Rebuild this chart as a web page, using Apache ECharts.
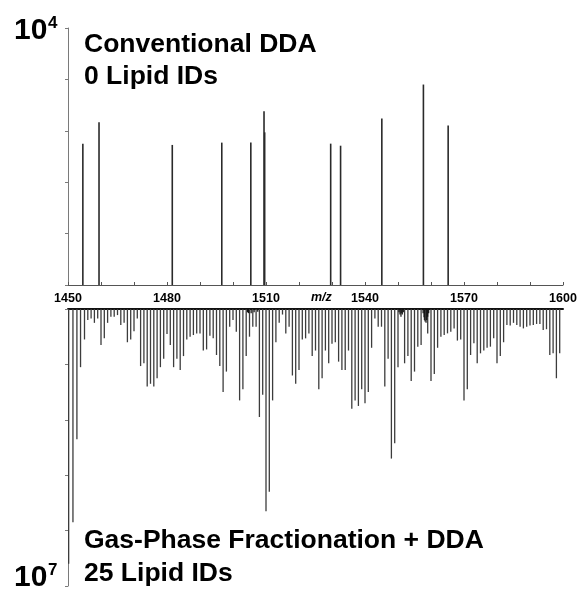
<!DOCTYPE html>
<html>
<head>
<meta charset="utf-8">
<script src="https://cdn.jsdelivr.net/npm/echarts@6/dist/echarts.min.js"></script>
<style>
html,body{margin:0;padding:0;background:#fff;}
#chart{width:582px;height:591px;}
</style>
</head>
<body>
<div id="chart"></div>
<script>
// X axis tick labels
var xTickLabels = ['1450', '1480', '1510', '1540', '1570', '1600'];

// Top panel: Conventional DDA (linear intensity, max 10^4)
var topMz  = [1454.5, 1459.4, 1481.6, 1496.6, 1505.4, 1509.4, 1509.6, 1529.6, 1532.6, 1545.1, 1557.7, 1565.2];
var topInt = [5500, 6330, 5450, 5540, 5540, 6760, 5940, 5500, 5420, 6480, 7800, 6210];

// Bottom panel: Gas-Phase Fractionation + DDA (intensity in millions, max 10^7)
var bottomMz = [1450.2, 1451.5, 1452.7, 1453.8,
  1455, 1456, 1457, 1458, 1459, 1460, 1461, 1462, 1463, 1464,
  1465, 1466, 1467, 1468, 1469, 1470, 1471, 1472, 1473, 1474,
  1475, 1476, 1477, 1478, 1479, 1480, 1481, 1482, 1483, 1484,
  1485, 1486, 1487, 1488, 1489, 1490, 1491, 1492, 1493, 1494,
  1495, 1496, 1497, 1498, 1499, 1500, 1501, 1502, 1503, 1504,
  1505, 1506, 1507, 1508, 1509, 1510, 1511, 1512, 1513, 1514,
  1515, 1516, 1517, 1518, 1519, 1520, 1521, 1522, 1523, 1524,
  1525, 1526, 1527, 1528, 1529, 1530, 1531, 1532, 1533, 1534,
  1535, 1536, 1537, 1538, 1539, 1540, 1541, 1542, 1543, 1544,
  1545, 1546, 1547, 1548, 1549, 1550, 1551, 1552, 1553, 1554,
  1555, 1556, 1557, 1558, 1559, 1560, 1561, 1562, 1563, 1564,
  1565, 1566, 1567, 1568, 1569, 1570, 1571, 1572, 1573, 1574,
  1575, 1576, 1577, 1578, 1579, 1580, 1581, 1582, 1583, 1584,
  1585, 1586, 1587, 1588, 1589, 1590, 1591, 1592, 1593, 1594,
  1595, 1596, 1597, 1598, 1599];
var bottomInt = [9.2, 7.7, 4.7, 2.1,
  1.1, 0.4, 0.34, 0.5, 0.34, 1.3, 1.06, 0.5, 0.28, 0.28,
  0.22, 0.58, 0.5, 1.2, 1.1, 0.8, 0.34, 2.06, 1.96, 2.8,
  2.7, 2.8, 2.5, 2.1, 1.8, 0.9, 1.3, 2.1, 1.8, 2.2,
  1.7, 1.1, 1.0, 0.94, 0.88, 0.88, 1.5, 1.46, 0.97, 1.06,
  1.66, 2.06, 3.0, 2.26, 0.64, 0.4, 0.82, 3.3, 2.9, 1.7,
  1.0, 0.64, 0.64, 3.9, 3.1, 7.3, 6.6, 3.3, 1.2, 0.5,
  0.2, 0.88, 0.64, 2.4, 2.7, 2.2, 1.1, 1.06, 0.88, 1.7,
  1.5, 2.9, 2.5, 1.5, 1.96, 1.25, 1.2, 1.9, 2.2, 2.2,
  1.5, 3.6, 3.3, 3.5, 2.9, 3.4, 3.0, 1.4, 0.34, 0.64,
  0.64, 2.8, 1.8, 5.4, 4.85, 2.1, 0.15, 1.96, 1.7, 2.6,
  2.26, 1.36, 1.3, 0.4, 0.88, 2.6, 2.35, 1.4, 1.0, 0.94,
  0.88, 0.82, 0.7, 1.14, 1.1, 3.3, 2.9, 1.66, 1.24, 1.96,
  1.6, 1.5, 1.4, 1.36, 1.06, 1.96, 1.7, 1.2, 0.58, 0.6,
  0.5, 0.58, 0.64, 0.7, 0.64, 0.6, 0.58, 0.54, 0.54, 0.76,
  0.73, 1.66, 1.6, 2.5, 1.6];

// Small dense peaks close to the baseline (dark clusters)
var minorMz  = [1504.4, 1504.7, 1505.5, 1506.4, 1507.5,
  1550.3, 1550.6, 1550.9, 1551.3, 1551.6,
  1557.6, 1557.9, 1558.2, 1558.5, 1558.7, 1559.0, 1559.3];
var minorInt = [0.12, 0.15, 0.15, 0.12, 0.1,
  0.12, 0.2, 0.28, 0.2, 0.12,
  0.15, 0.3, 0.45, 0.5, 0.4, 0.28, 0.15];

function pairs(xs, ys) {
  var out = [];
  for (var i = 0; i < xs.length; i++) out.push([xs[i], ys[i]]);
  return out;
}

function stickRenderer(color, width) {
  return function (params, api) {
    var p0 = api.coord([api.value(0), 0]);
    var p1 = api.coord([api.value(0), api.value(1)]);
    return {
      type: 'line',
      shape: { x1: p0[0], y1: p0[1], x2: p1[0], y2: p1[1] },
      style: { stroke: color, lineWidth: width }
    };
  };
}

var FONT = '"Liberation Sans", Arial, sans-serif';
var axisGray = '#7a7a7a';

var chart = echarts.init(document.getElementById('chart'), null, { renderer: 'canvas' });
chart.setOption({
  animation: false,
  backgroundColor: '#ffffff',
  grid: [
    { left: 68, top: 28, width: 495, height: 257 },
    { left: 68, top: 309, width: 495, height: 277 }
  ],
  xAxis: [
    {
      type: 'value', gridIndex: 0, min: 1450, max: 1600, interval: 10,
      axisLine: { show: true, lineStyle: { color: '#555', width: 1 } },
      axisTick: { show: true, inside: true, length: 3, lineStyle: { color: '#555' } },
      splitLine: { show: false },
      axisLabel: {
        show: true, margin: 7, color: '#000', fontFamily: FONT, fontWeight: 'bold', fontSize: 12.5,
        formatter: function (v) {
          var s = String(Math.round(v));
          return xTickLabels.indexOf(s) >= 0 ? s : '';
        }
      }
    },
    {
      type: 'value', gridIndex: 1, min: 1450, max: 1600, position: 'top',
      axisLine: { show: true, onZero: false, lineStyle: { color: '#111', width: 2 } },
      axisTick: { show: false },
      axisLabel: { show: false },
      splitLine: { show: false }
    }
  ],
  yAxis: [
    {
      type: 'value', gridIndex: 0, min: 0, max: 10000, interval: 2000,
      axisLine: { show: true, lineStyle: { color: axisGray, width: 1 } },
      axisTick: { show: true, inside: false, length: 3, lineStyle: { color: axisGray } },
      axisLabel: { show: false },
      splitLine: { show: false }
    },
    {
      type: 'value', gridIndex: 1, min: 0, max: 10, interval: 2, inverse: true,
      axisLine: { show: true, lineStyle: { color: axisGray, width: 1 } },
      axisTick: { show: true, inside: false, length: 3, lineStyle: { color: axisGray } },
      axisLabel: { show: false },
      splitLine: { show: false }
    }
  ],
  series: [
    {
      type: 'custom', xAxisIndex: 0, yAxisIndex: 0,
      renderItem: stickRenderer('#2a2a2a', 1.6),
      encode: { x: 0, y: 1 },
      data: pairs(topMz, topInt)
    },
    {
      type: 'custom', xAxisIndex: 1, yAxisIndex: 1,
      renderItem: stickRenderer('#3c3c3c', 1.3),
      encode: { x: 0, y: 1 },
      data: pairs(bottomMz, bottomInt)
    },
    {
      type: 'custom', xAxisIndex: 1, yAxisIndex: 1,
      renderItem: stickRenderer('#111', 1.2),
      encode: { x: 0, y: 1 },
      data: pairs(minorMz, minorInt)
    }
  ],
  graphic: [
    { type: 'text', left: 14, top: 16, style: { text: '10', font: 'bold 30px ' + FONT, fill: '#000' } },
    { type: 'text', left: 48, top: 15, style: { text: '4', font: 'bold 17px ' + FONT, fill: '#000' } },
    { type: 'text', left: 14, top: 563, style: { text: '10', font: 'bold 30px ' + FONT, fill: '#000' } },
    { type: 'text', left: 48, top: 562, style: { text: '7', font: 'bold 17px ' + FONT, fill: '#000' } },
    { type: 'text', left: 84, top: 31, style: { text: 'Conventional DDA', font: 'bold 26.5px ' + FONT, fill: '#000' } },
    { type: 'text', left: 84, top: 63, style: { text: '0 Lipid IDs', font: 'bold 26.5px ' + FONT, fill: '#000' } },
    { type: 'text', left: 84, top: 527, style: { text: 'Gas-Phase Fractionation + DDA', font: 'bold 26.5px ' + FONT, fill: '#000' } },
    { type: 'text', left: 84, top: 560, style: { text: '25 Lipid IDs', font: 'bold 26.5px ' + FONT, fill: '#000' } },
    { type: 'text', left: 311, top: 291, style: { text: 'm/z', font: 'italic bold 12.5px ' + FONT, fill: '#000' } }
  ]
});
</script>
</body>
</html>
